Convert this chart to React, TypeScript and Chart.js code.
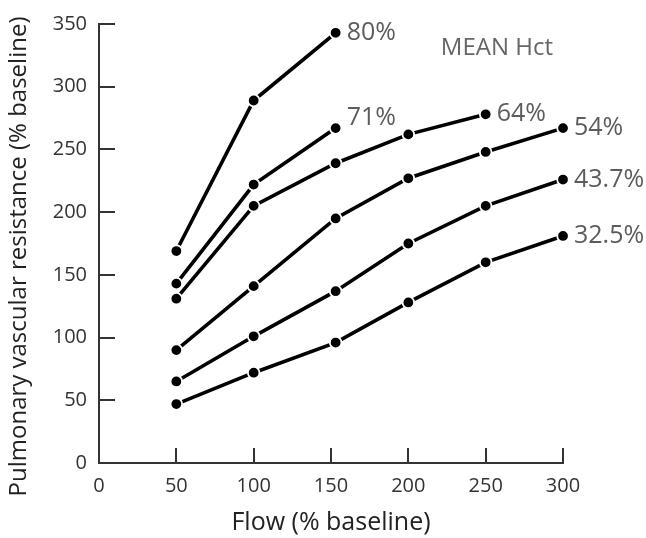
import React, { useEffect, useRef } from "react";
import { Chart, registerables } from "chart.js";

Chart.register(...registerables);

const xTicks = [0, 50, 100, 150, 200, 250, 300];
const yTicks = [0, 50, 100, 150, 200, 250, 300, 350];

const xTitle = "Flow (% baseline)";
const yTitle = "Pulmonary vascular resistance (% baseline)";
const legendTitle = "MEAN Hct";

const seriesNames = ["80%", "71%", "64%", "54%", "43.7%", "32.5%"];
const flow80 = [50, 100, 153];
const pvr80 = [169, 289, 343];
const flow71 = [50, 100, 153];
const pvr71 = [143, 222, 267];
const flow64 = [50, 100, 153, 200, 250];
const pvr64 = [131, 205, 239, 262, 278];
const flow54 = [50, 100, 153, 200, 250, 300];
const pvr54 = [90, 141, 195, 227, 248, 267];
const flow437 = [50, 100, 153, 200, 250, 300];
const pvr437 = [65, 101, 137, 175, 205, 226];
const flow325 = [50, 100, 153, 200, 250, 300];
const pvr325 = [47, 72, 96, 128, 160, 181];

const FONT = "'Open Sans', sans-serif";

const labelDy = [0, -10, 0, 0, 0, 0];

function pairs(xs: number[], ys: number[]) {
  return xs.map((x, i) => ({ x, y: ys[i] }));
}

const annotPlugin = {
  id: "annot",
  afterDatasetsDraw(chart: any) {
    const ctx = chart.ctx;
    const xs = chart.scales.x;
    const ys = chart.scales.y;
    const ca = chart.chartArea;
    ctx.save();
    // inward tick marks
    ctx.strokeStyle = "#333";
    ctx.lineWidth = 2;
    xTicks.forEach((v) => {
      if (v === 0) return;
      const px = Math.round(xs.getPixelForValue(v));
      ctx.beginPath();
      ctx.moveTo(px, ys.bottom);
      ctx.lineTo(px, ys.bottom - 15);
      ctx.stroke();
    });
    yTicks.forEach((v) => {
      if (v === 0) return;
      const py = Math.round(ys.getPixelForValue(v));
      ctx.beginPath();
      ctx.moveTo(xs.left, py);
      ctx.lineTo(xs.left + 16, py);
      ctx.stroke();
    });
    // series labels
    ctx.fillStyle = "#5c5c5c";
    ctx.font = `25px ${FONT}`;
    ctx.textAlign = "left";
    ctx.textBaseline = "middle";
    chart.data.datasets.forEach((ds: any, i: number) => {
      const meta = chart.getDatasetMeta(i);
      const last = meta.data[meta.data.length - 1];
      ctx.fillText(seriesNames[i], last.x + 11, last.y + labelDy[i]);
    });
    ctx.font = `24px ${FONT}`;
    ctx.fillStyle = "#666";
    ctx.fillText(legendTitle, xs.getPixelForValue(221), 48);
    // axis titles
    ctx.fillStyle = "#222";
    ctx.textAlign = "center";
    ctx.font = `25px ${FONT}`;
    ctx.fillText(xTitle, (ca.left + ca.right) / 2, 523);
    ctx.translate(19, (ca.top + ca.bottom) / 2 + 13);
    ctx.rotate(-Math.PI / 2);
    ctx.font = `24px ${FONT}`;
    ctx.fillText(yTitle, 0, 0);
    ctx.restore();
  },
};

export default function App() {
  const ref = useRef<HTMLCanvasElement | null>(null);
  useEffect(() => {
    if (!ref.current) return;
    const mk = (xs: number[], ys: number[]) => ({
      data: pairs(xs, ys),
      borderColor: "#000",
      borderWidth: 3.6,
      backgroundColor: "#000",
      pointRadius: 5.8,
      pointBorderWidth: 1.8,
      pointBorderColor: "#fff",
      pointBackgroundColor: "#000",
      tension: 0,
      clip: false as any,
    });
    const chart = new Chart(ref.current, {
      type: "line",
      data: {
        datasets: [
          mk(flow80, pvr80),
          mk(flow71, pvr71),
          mk(flow64, pvr64),
          mk(flow54, pvr54),
          mk(flow437, pvr437),
          mk(flow325, pvr325),
        ],
      },
      options: {
        animation: false,
        responsive: false,
        maintainAspectRatio: false,
        layout: { padding: { top: 15, right: 83, left: 0, bottom: 0 } },
        plugins: { legend: { display: false }, tooltip: { enabled: false } },
        scales: {
          x: {
            type: "linear",
            min: 0,
            max: 300,
            afterFit: (s: any) => {
              s.height = 75;
            },
            afterBuildTicks: (s: any) => {
              s.ticks = xTicks.map((v) => ({ value: v }));
            },
            grid: { display: false, drawTicks: false },
            border: { display: true, color: "#333", width: 2 },
            ticks: {
              color: "#333",
              font: { family: FONT, size: 20 },
              padding: 11,
              maxRotation: 0,
            },
            title: { display: false },
          },
          y: {
            type: "linear",
            min: 0,
            max: 350,
            afterFit: (s: any) => {
              s.width = 99;
            },
            afterBuildTicks: (s: any) => {
              s.ticks = yTicks.map((v) => ({ value: v }));
            },
            grid: { display: false, drawTicks: false },
            border: { display: true, color: "#333", width: 2 },
            ticks: {
              color: "#333",
              font: { family: FONT, size: 20 },
              padding: 12,
            },
            title: { display: false },
          },
        },
      },
      plugins: [annotPlugin],
    });
    return () => chart.destroy();
  }, []);
  return (
    <div style={{ position: "fixed", left: 0, top: 0, width: 646, height: 538, background: "#fff" }}>
      <canvas ref={ref} width={646} height={538} style={{ display: "block" }} />
    </div>
  );
}
